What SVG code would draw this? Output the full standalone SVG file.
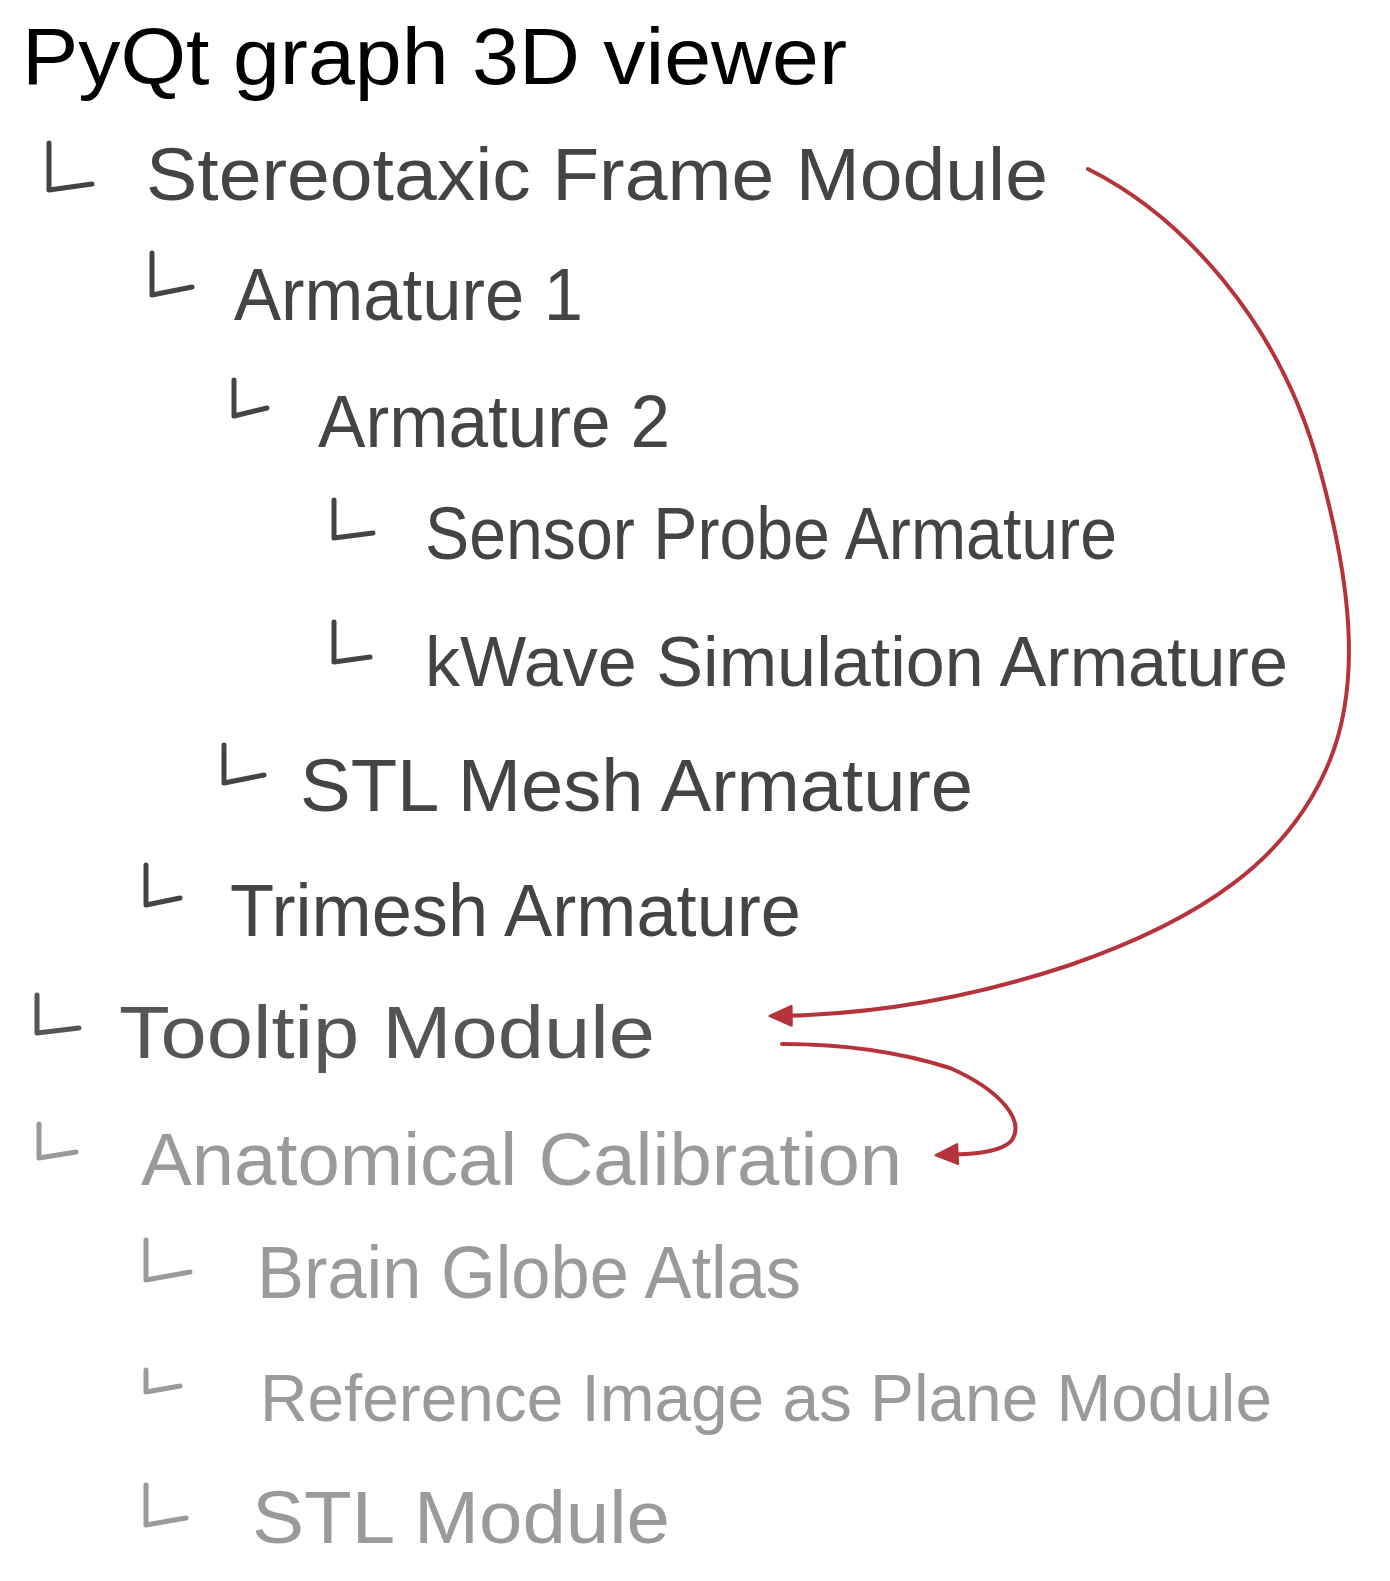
<svg xmlns="http://www.w3.org/2000/svg" width="1390" height="1581" viewBox="0 0 1390 1581">
<style>
text{font-family:"Liberation Sans","DejaVu Sans",sans-serif;font-weight:normal}
.title{fill:#000;font-size:80px}
.dark{fill:#444;font-size:74px}
.mid{fill:#555;font-size:74px}
.light{fill:#9a9a9a;font-size:74px}
.br{fill:none;stroke-width:5;stroke-linecap:round;stroke-linejoin:round}
.brd{stroke:#444}
.brm{stroke:#555}
.brl{stroke:#9a9a9a}
.arrow{fill:none;stroke:#b5343c;stroke-width:4;stroke-linecap:round;stroke-linejoin:round}
</style>
<defs>
<marker id="ah" viewBox="0 0 10 10" refX="8" refY="5" markerWidth="6.5" markerHeight="5.5" orient="auto" markerUnits="strokeWidth">
<path d="M0,0.5 L10,5 L0,9.5 Z" fill="#b5343c" stroke="#b5343c" stroke-width="1" stroke-linejoin="round"/>
</marker>
</defs>
<rect width="1390" height="1581" fill="#fff"/>
<g id="title"><text class="title" x="22" y="84" textLength="825" lengthAdjust="spacingAndGlyphs">PyQt graph  3D viewer</text></g>
<g id="node-stereotaxic"><text class="dark" x="146" y="200" textLength="902" lengthAdjust="spacingAndGlyphs">Stereotaxic  Frame  Module</text></g>
<g id="node-armature1"><text class="dark" x="234" y="320" textLength="349" lengthAdjust="spacingAndGlyphs">Armature  1</text></g>
<g id="node-armature2"><text class="dark" x="318" y="447" textLength="352" lengthAdjust="spacingAndGlyphs">Armature  2</text></g>
<g id="node-sensor"><text class="dark" x="425" y="559" textLength="692" lengthAdjust="spacingAndGlyphs">Sensor  Probe  Armature</text></g>
<g id="node-kwave"><text class="dark" x="425" y="686" font-size="70" style="font-size:70px" textLength="863" lengthAdjust="spacingAndGlyphs">kWave Simulation Armature</text></g>
<g id="node-stlmesh"><text class="dark" x="300" y="811" textLength="673" lengthAdjust="spacingAndGlyphs">STL  Mesh  Armature</text></g>
<g id="node-trimesh"><text class="dark" x="230" y="936" textLength="571" lengthAdjust="spacingAndGlyphs">Trimesh  Armature</text></g>
<g id="node-tooltip"><text class="mid" x="119" y="1058" textLength="536" lengthAdjust="spacingAndGlyphs">Tooltip  Module</text></g>
<g id="node-anatomical"><text class="light" x="141" y="1185" textLength="761" lengthAdjust="spacingAndGlyphs">Anatomical  Calibration</text></g>
<g id="node-brainglobe"><text class="light" x="257" y="1298" textLength="544" lengthAdjust="spacingAndGlyphs">Brain  Globe  Atlas</text></g>
<g id="node-reference"><text class="light" x="260" y="1421" style="font-size:66px" textLength="1012" lengthAdjust="spacingAndGlyphs">Reference Image as Plane Module</text></g>
<g id="node-stlmodule"><text class="light" x="252" y="1543" textLength="418" lengthAdjust="spacingAndGlyphs">STL  Module</text></g>
<g id="connectors">
<path class="br brd" d="M49,143 V190 L92,184"/>
<path class="br brd" d="M152,253 V295 L192,287"/>
<path class="br brd" d="M234,380 V416 L267,408"/>
<path class="br brd" d="M334,500 V538 L373,533"/>
<path class="br brd" d="M334,622 V662 L370,657"/>
<path class="br brd" d="M224,745 V783 L264,775"/>
<path class="br brd" d="M146,865 V905 L180,898"/>
<path class="br brm" d="M37,995 V1033 L79,1028"/>
<path class="br brl" d="M39,1124 V1158 L76,1152"/>
<path class="br brl" d="M146,1240 V1280 L190,1272"/>
<path class="br brl" d="M146,1370 V1392 L180,1386"/>
<path class="br brl" d="M146,1485 V1525 L186,1518"/>
<path class="arrow" marker-end="url(#ah)" d="M1088,169 C1180,215 1280,320 1320,470 C1350,580 1362,680 1330,760 C1290,860 1200,920 1070,965 C980,995 880,1015 774,1016"/>
<path class="arrow" marker-end="url(#ah)" d="M782,1044 C840,1044 900,1052 950,1068 C1000,1090 1025,1120 1012,1140 C1000,1155 960,1154 940,1155"/>
</g>
</svg>
